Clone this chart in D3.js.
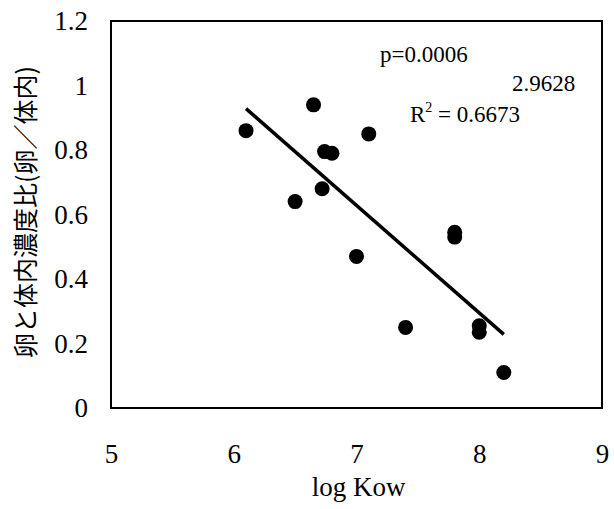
<!DOCTYPE html>
<html>
<head>
<meta charset="utf-8">
<script src="https://cdn.jsdelivr.net/npm/d3@7"></script>
<style>
  body { margin: 0; background: #fff; }
</style>
</head>
<body>
<div id="chart"></div>
<script>
// log Kow vs egg/body concentration ratio
const logKow = [6.1, 6.65, 6.74, 6.8, 7.1, 6.5, 6.72, 7.0, 7.8, 7.8, 7.4, 8.0, 8.0, 8.2];
const ratio  = [0.86, 0.94, 0.795, 0.79, 0.85, 0.64, 0.68, 0.47, 0.545, 0.53, 0.25, 0.255, 0.235, 0.11];

const xTicks = [5, 6, 7, 8, 9];
const yTicks = [0, 0.2, 0.4, 0.6, 0.8, 1, 1.2];

// trend line
const slope = -0.3335, intercept = 2.9628;
const fitRange = [6.1, 8.2];

const SERIF = '"Liberation Serif", "Times New Roman", serif';
const W = 614, H = 509;
const m = { left: 111, right: 12, top: 21, bottom: 101 };

const svg = d3.select("#chart").append("svg")
  .attr("width", W).attr("height", H);

const x = d3.scaleLinear().domain([5, 9]).range([m.left, W - m.right]);
const y = d3.scaleLinear().domain([0, 1.2]).range([H - m.bottom, m.top]);

// frame
svg.append("rect")
  .attr("x", x(5)).attr("y", y(1.2))
  .attr("width", x(9) - x(5)).attr("height", y(0) - y(1.2))
  .attr("fill", "none").attr("stroke", "#000").attr("stroke-width", 2);

const xAxis = svg.append("g")
  .attr("transform", `translate(0,${y(0)})`)
  .call(d3.axisBottom(x).tickValues(xTicks).tickSize(0).tickFormat(d3.format("d")));
xAxis.select(".domain").remove();
xAxis.selectAll("text")
  .attr("y", 55).attr("dy", null)
  .style("font-family", SERIF).style("font-size", "27px").attr("fill", "#000");

const yAxis = svg.append("g")
  .attr("transform", `translate(${x(5)},0)`)
  .call(d3.axisLeft(y).tickValues(yTicks).tickSize(0).tickPadding(23)
    .tickFormat(d => d === 0 || d === 1 ? d : d.toFixed(1)));
yAxis.select(".domain").remove();
yAxis.selectAll("text")
  .style("font-family", SERIF).style("font-size", "27px").attr("fill", "#000");

// axis titles
svg.append("text")
  .attr("x", (x(5) + x(9)) / 2 + 2).attr("y", 496)
  .attr("text-anchor", "middle")
  .style("font-family", SERIF).style("font-size", "27px")
  .text("log Kow");

svg.append("text")
  .attr("transform", `translate(35,212) rotate(-90)`)
  .attr("text-anchor", "middle")
  .style("font-family", '"Noto Sans CJK JP", sans-serif')
  .style("font-size", "25px")
  .text("卵と体内濃度比(卵／体内)");

// regression line
svg.append("line")
  .attr("x1", x(fitRange[0])).attr("y1", y(slope * fitRange[0] + intercept))
  .attr("x2", x(fitRange[1])).attr("y2", y(slope * fitRange[1] + intercept))
  .attr("stroke", "#000").attr("stroke-width", 3.5);

// points
svg.selectAll("circle.pt")
  .data(logKow.map((d, i) => [d, ratio[i]]))
  .enter().append("circle")
  .attr("class", "pt")
  .attr("cx", d => x(d[0])).attr("cy", d => y(d[1]))
  .attr("r", 7.5).attr("fill", "#000");

// annotations
const note = (px, py) => svg.append("text").attr("x", px).attr("y", py)
  .style("font-family", SERIF).style("font-size", "23px");
note(380, 62).text("p=0.0006");
note(512, 91).text("2.9628");
const r2 = note(410, 122);
r2.append("tspan").text("R");
r2.append("tspan").attr("dy", -10).style("font-size", "14px").text("2");
r2.append("tspan").attr("dy", 10).text(" = 0.6673");
</script>
</body>
</html>
